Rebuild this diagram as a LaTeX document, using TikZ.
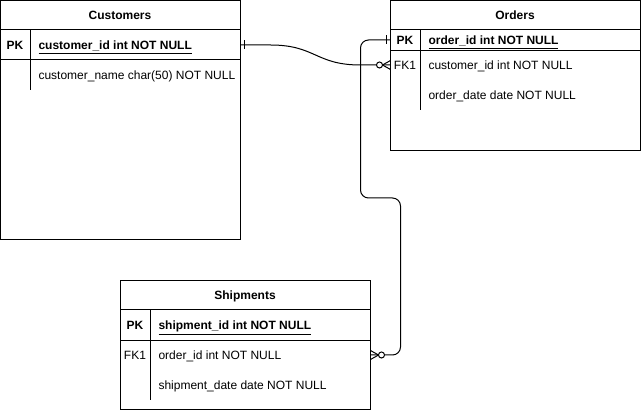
\documentclass[tikz,border=0pt]{standalone}
\usepackage{fontspec}
\setmainfont{Liberation Sans}
\usetikzlibrary{calc}

\tikzset{
  table/.style={draw, line width=1pt, inner sep=0pt, outer sep=0pt, anchor=north west},
  cell/.style={font=\fontsize{12}{14}\selectfont, inner sep=0pt, text height=10.5pt, text depth=0.5pt},
  boldcell/.style={cell, font=\fontsize{12}{14}\selectfont\bfseries},
  field/.style={anchor=west},
  link/.style={line width=1pt},
}

\begin{document}
\begin{tikzpicture}[x=1pt, y=-1pt, line width=1pt]
    \useasboundingbox (0,0) rectangle (641,411);

    % Customers table
    \node[table, minimum width=240pt, minimum height=239.5pt] (customers) at (0.5,0.5) {};
    \draw (0.5,30) -- (240.5,30);
    \draw (0.5,60) -- (240.5,60);
    \draw (30.5,30) -- (30.5,90);
    \node[boldcell] (customers-title) at (120,15) {Customers};
    \node[boldcell] (customers-pk) at (15,45) {PK};
    \node[boldcell, field] (customers-id) at (38,45) {\underline{customer\_id int NOT NULL}};
    \node[cell, field] (customers-name) at (38,75) {customer\_name char(50) NOT NULL};

    % Orders table
    \node[table, minimum width=250pt, minimum height=150pt] (orders) at (390.5,0.5) {};
    \draw (390.5,30) -- (640.5,30);
    \draw (390.5,50.5) -- (640.5,50.5);
    \draw (420.5,30) -- (420.5,110);
    \node[boldcell] (orders-title) at (515,15) {Orders};
    \node[boldcell] (orders-pk) at (405,40) {PK};
    \node[boldcell, field] (orders-id) at (428,40) {\underline{order\_id int NOT NULL}};
    \node[cell] (orders-fk) at (405,65) {FK1};
    \node[cell, field] (orders-cust) at (428,65) {customer\_id int NOT NULL};
    \node[cell, field] (orders-date) at (428,95) {order\_date date NOT NULL};

    % Shipments table
    \node[table, minimum width=250pt, minimum height=129.5pt] (shipments) at (120.5,280.5) {};
    \draw (120.5,310) -- (370.5,310);
    \draw (120.5,340.5) -- (370.5,340.5);
    \draw (150.5,310) -- (150.5,400);
    \node[boldcell] (shipments-title) at (245,295) {Shipments};
    \node[boldcell] (shipments-pk) at (135,325) {PK};
    \node[boldcell, field] (shipments-id) at (158,325) {\underline{shipment\_id int NOT NULL}};
    \node[cell] (shipments-fk) at (135,355) {FK1};
    \node[cell, field] (shipments-order) at (158,355) {order\_id int NOT NULL};
    \node[cell, field] (shipments-date) at (158,385) {shipment\_date date NOT NULL};

    % Customers -> Orders
    \coordinate (c-one) at (customers.east |- customers-pk);
    \coordinate (o-many) at (orders.west |- orders-fk);
    \draw[link] (c-one) -- ++(30,0) .. controls +(45,0) and +(-45,0) .. ($(o-many)+(-30,0)$) -- (o-many);
    \draw[link] ($(c-one)+(4,-4.5)$) -- ++(0,9);
    \draw[link] ($(o-many)+(-8,0)$) -- ++(8,-4.5);
    \draw[link] ($(o-many)+(-8,0)$) -- ++(8,4.5);
    \draw[link, fill=white] ($(o-many)+(-11,0)$) circle (3);

    % Orders -> Shipments
    \coordinate (o-one) at (orders.west |- orders-pk);
    \coordinate (s-many) at (shipments.east |- shipments-fk);
    \draw[link, rounded corners=8pt] (o-one) -- ++(-30,0) -- ++(0,158) -- ++(40,0) |- (s-many);
    \draw[link] ($(o-one)+(-4,-4.5)$) -- ++(0,9);
    \draw[link] ($(s-many)+(8,0)$) -- ++(-8,-4.5);
    \draw[link] ($(s-many)+(8,0)$) -- ++(-8,4.5);
    \draw[link, fill=white] ($(s-many)+(11,0)$) circle (3);
\end{tikzpicture}
\end{document}
